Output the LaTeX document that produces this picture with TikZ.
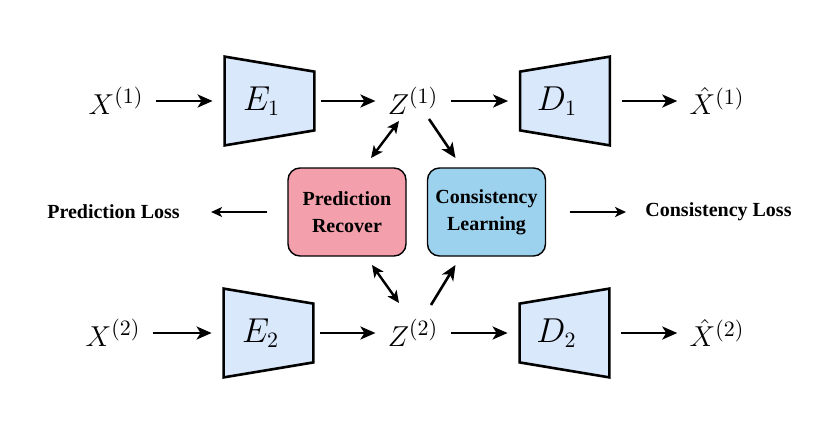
\documentclass[tikz,border=0pt]{standalone}
\usepackage{fontspec}
\setmainfont{Liberation Serif}
\usetikzlibrary{positioning,arrows.meta,backgrounds}
\definecolor{encblue}{RGB}{218,232,252}
\definecolor{predpink}{RGB}{243,160,172}
\definecolor{conscyan}{RGB}{157,210,238}

\begin{document}
\begin{tikzpicture}[
    x=0.5pt, y=-0.5pt,
    var/.style={inner sep=0pt, font=\fontsize{15.5}{18}\selectfont},
    coder/.style={minimum width=44.5pt, minimum height=44pt, inner sep=0pt,
        font=\fontsize{16}{18}\selectfont},
    trap/.style={draw=black, line width=1.3pt, fill=encblue, line join=miter},
    module/.style={rectangle, rounded corners=6pt, draw=black, line width=0.7pt,
        minimum width=59pt, minimum height=44pt, align=center,
        font=\fontsize{10}{13.5}\selectfont\bfseries},
    loss/.style={inner sep=0pt, font=\bfseries},
    arrow/.style={-{Stealth[length=7.5pt,width=6.5pt,inset=2pt]}, line width=1.3pt},
    flow/.style={arrow, shorten <=6pt, shorten >=6pt},
    twoway/.style={{Stealth[length=6pt,width=5.5pt,inset=1.5pt]}-{Stealth[length=6pt,width=5.5pt,inset=1.5pt]}, line width=1.2pt},
    lossarrow/.style={-{Stealth[length=5.5pt,width=5pt,inset=1.5pt]}, line width=1pt}
]
    \useasboundingbox (0,0) rectangle (832,435);

    % view 1
    \node[var] (x1) at (116,101) {$X^{(1)}$};
    \node[coder] (e1) at (269.5,101) {$E_1\hspace{8pt}$};
    \node[var] (z1) at (413,101) {$Z^{(1)}$};
    \node[coder] (d1) at (565,101) {$D_1\hspace{8pt}$};
    \node[var] (xh1) at (717,101) {$\hat{X}^{(1)}$};

    % view 2
    \node[var] (x2) at (113,333) {$X^{(2)}$};
    \node[coder] (e2) at (268.5,333) {$E_2\hspace{8pt}$};
    \node[var] (z2) at (413,333) {$Z^{(2)}$};
    \node[coder] (d2) at (564.5,333) {$D_2\hspace{8pt}$};
    \node[var] (xh2) at (717,333) {$\hat{X}^{(2)}$};

    % middle modules
    \node[module, fill=predpink] (pred) at (347,212) {Prediction\\Recover};
    \node[module, fill=conscyan] (cons) at (486.5,212) {Consistency\\Learning};
    \node[loss] (ploss) at (113.5,212) {Prediction Loss};
    \node[loss] (closs) at (718.5,212) {Consistency Loss};

    \begin{scope}[on background layer]
        \draw[trap] (e1.north west) -- ([shift={(0,15)}]e1.north east) -- ([shift={(0,-15)}]e1.south east) -- (e1.south west) -- cycle;
        \draw[trap] (e2.north west) -- ([shift={(0,15)}]e2.north east) -- ([shift={(0,-15)}]e2.south east) -- (e2.south west) -- cycle;
        \draw[trap] ([shift={(0,15)}]d1.north west) -- (d1.north east) -- (d1.south east) -- ([shift={(0,-15)}]d1.south west) -- cycle;
        \draw[trap] ([shift={(0,15)}]d2.north west) -- (d2.north east) -- (d2.south east) -- ([shift={(0,-15)}]d2.south west) -- cycle;
    \end{scope}

    \draw[flow] (x1) -- (e1);
    \draw[flow, shorten <=3.5pt] (e1) -- (z1);
    \draw[flow] (z1) -- (d1);
    \draw[flow] (d1) -- (xh1);
    \draw[flow] (x2) -- (e2);
    \draw[flow, shorten <=3.5pt] (e2) -- (z2);
    \draw[flow] (z2) -- (d2);
    \draw[flow] (d2) -- (xh2);

    \draw[twoway] ([shift={(-14,20)}]z1.center) -- ([shift={(24,-54)}]pred.center);
    \draw[arrow] ([shift={(16,18)}]z1.center) -- ([shift={(-31,-54)}]cons.center);
    \draw[twoway] ([shift={(25,53)}]pred.center) -- ([shift={(-14,-30)}]z2.center);
    \draw[arrow] ([shift={(18,-28)}]z2.center) -- ([shift={(-31,53)}]cons.center);

    \draw[lossarrow, shorten <=10pt, shorten >=15.5pt] (pred) -- (ploss);
    \draw[lossarrow, shorten <=11.75pt, shorten >=9.5pt] (cons) -- (closs);
\end{tikzpicture}
\end{document}
